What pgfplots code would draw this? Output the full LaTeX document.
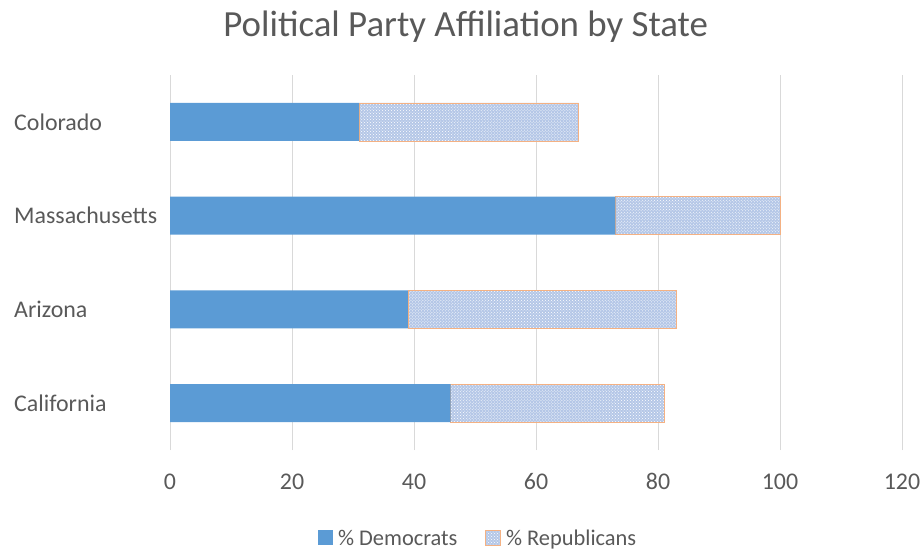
\documentclass[border=0pt]{standalone}
\usepackage{pgfplots}
\pgfplotsset{compat=1.18}
\usetikzlibrary{patterns}
\usepackage{fontspec}
\setmainfont{Carlito}
\definecolor{dem}{HTML}{5B9BD5}
\definecolor{rep}{HTML}{F4B183}
\definecolor{repfill}{HTML}{B4C7E7}
\definecolor{gridc}{HTML}{D9D9D9}
\definecolor{txt}{HTML}{595959}
\begin{document}
\begin{tikzpicture}
\useasboundingbox (0,0) rectangle (923bp,550bp);
\begin{axis}[
 at={(170bp,100bp)}, anchor=south west,
 scale only axis, width=732bp, height=375bp,
 xbar stacked, bar width=38bp,
 xmin=0, xmax=120, ymin=-0.5, ymax=3.5,
 xtick={0,20,...,120}, ytick={0,1,2,3},
 yticklabels={California,Arizona,Massachusetts,Colorado},
 xmajorgrids, grid style={gridc, line width=0.9pt},
 axis line style={draw=none}, major tick length=0,
 tick label style={font=\fontsize{24}{28}\selectfont, text=txt},
 yticklabel style={anchor=west, inner sep=0pt, xshift=-156bp},
 xticklabel style={yshift=-20bp},
 /pgf/number format/assume math mode=true,
 title={Political Party Affiliation by State},
 title style={at={(0.404,1.112)}, anchor=center, font=\fontsize{37}{42}\selectfont, text=txt},
 legend style={at={(0.421,-0.235)}, anchor=center, draw=none, legend columns=2,
   font=\fontsize{22.5}{26}\selectfont, text=txt,
   /tikz/every odd column/.append style={column sep=3bp},
   /tikz/every even column/.append style={column sep=26bp}},
 legend image code/.code={\path[#1] (0bp,-7bp) rectangle (15bp,8bp);},
]
\addplot[fill=dem, draw=none] coordinates {(46,0) (39,1) (73,2) (31,3)};
\addplot[draw=rep, line width=0.6pt, fill=repfill, postaction={pattern=crosshatch dots, pattern color=white}] coordinates {(35,0) (44,1) (27,2) (36,3)};
\legend{\% Democrats, \% Republicans}
\end{axis}
\end{tikzpicture}
\end{document}
